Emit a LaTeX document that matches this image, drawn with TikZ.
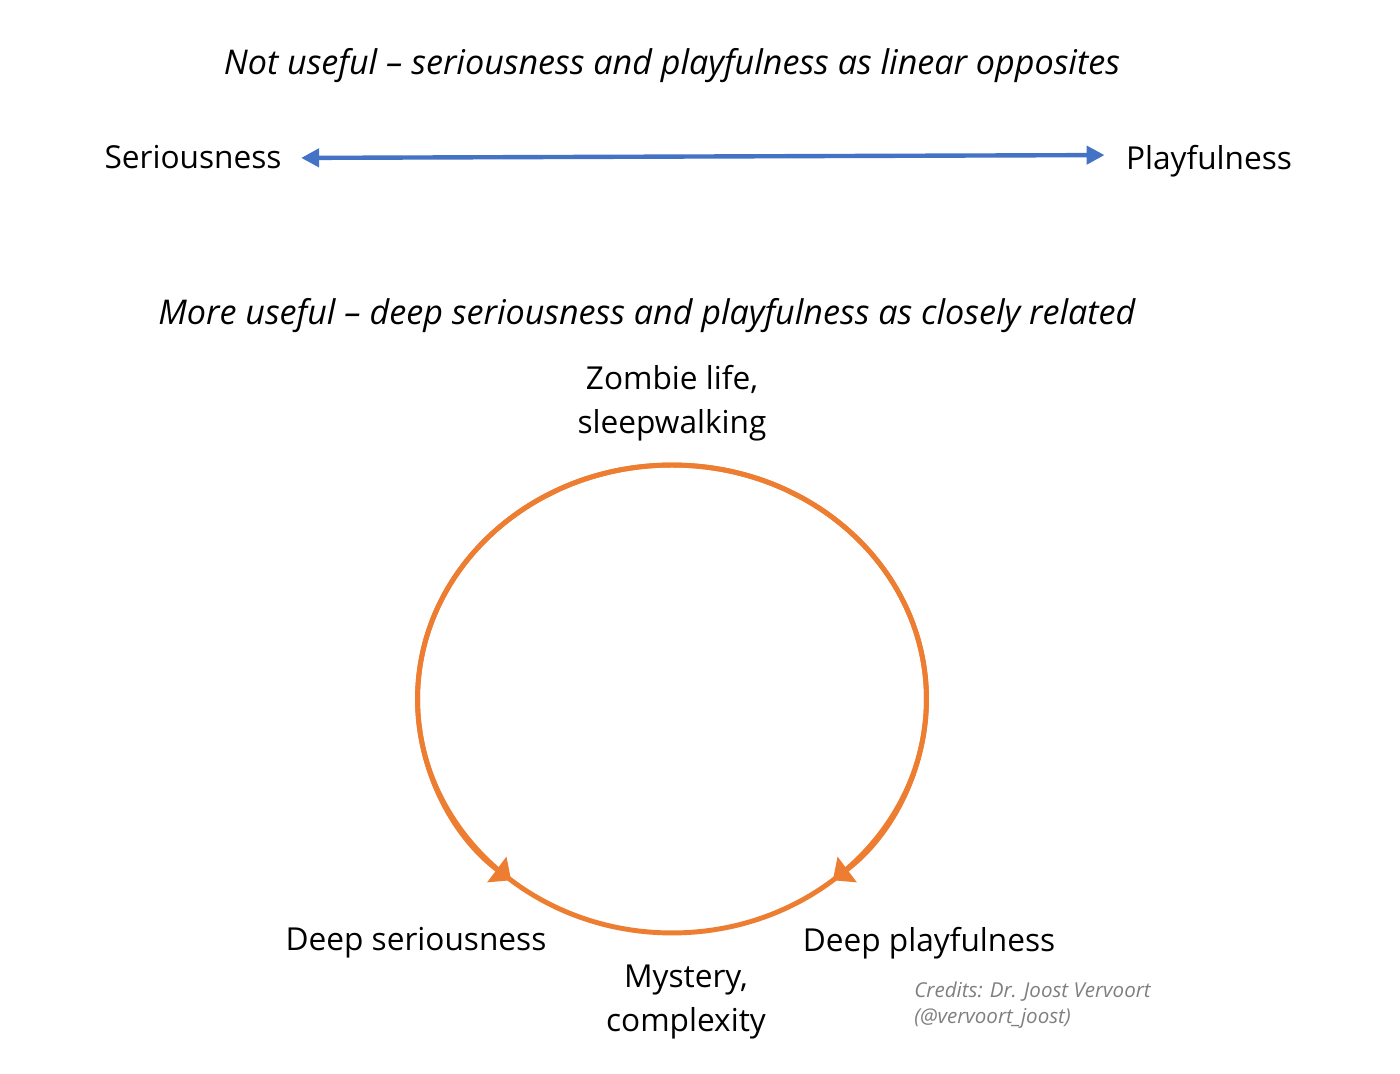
\documentclass[tikz,border=0pt]{standalone}
\usepackage{fontspec}
\setmainfont{Open Sans}
\usetikzlibrary{arrows.meta}
\definecolor{linblue}{HTML}{4472C4}
\definecolor{cycorange}{HTML}{ED7D31}
\definecolor{credgray}{HTML}{7F7F7F}
\tikzset{
	lbl/.style={font=\fontsize{18pt}{25pt}\selectfont, align=center, inner sep=0pt},
	ttl/.style={lbl, font=\fontsize{19.4pt}{25pt}\selectfont\itshape},
	cyc/.style={draw=cycorange, line width=2.8pt},
	cyctip/.style={-{Triangle[length=0.36cm, width=0.62cm]}}
}
\begin{document}
\begin{tikzpicture}[x=0.02cm, y=0.02cm]
		\useasboundingbox (0,0) rectangle (1400,1074);
		%top
			\node [ttl] (ttlA) at (672,1008) {Not useful -- seriousness and playfulness as linear opposites};
			\node [lbl] (ser) at (193,917) {Seriousness};
			\node [lbl] (play) at (1209,913) {Playfulness};
			%arrow
			\draw [linblue, line width=2.5pt, {Triangle[length=0.36cm, width=0.36cm]}-{Triangle[length=0.36cm, width=0.36cm]}, shorten <=11pt, shorten >=12pt] ([yshift=-0.02cm]ser.east) to ([yshift=0.12cm]play.west);
		%bottom
			\node [ttl] (ttlB) at (647,758) {More useful -- deep seriousness and playfulness as closely related};
			\node [lbl] (zomb) at (672,671) {Zombie life,\\sleepwalking};
			\node [lbl] (dser) at (416,131) {Deep seriousness};
			\node [lbl] (dplay) at (929,131) {Deep playfulness};
			\node [lbl] (myst) at (686,72) {Mystery,\\complexity};
			\node [anchor=west, align=left, inner sep=0pt, text=credgray, font=\fontsize{11.7pt}{14.5pt}\selectfont\itshape] (cred) at (914,69) {Credits: Dr. Joost Vervoort\\(@vervoort\_joost)};
			%cycle
			\coordinate (mid) at (672,375);
			\draw [cyc] (mid) ellipse [x radius=5.09cm, y radius=4.68cm];
			\draw [cyc, cyctip] (mid) ++(90:5.09cm and 4.68cm) arc [start angle=90, end angle=230.8, x radius=5.09cm, y radius=4.68cm];
			\draw [cyc, cyctip] (mid) ++(90:5.09cm and 4.68cm) arc [start angle=90, end angle=-50.8, x radius=5.09cm, y radius=4.68cm];
\end{tikzpicture}
\end{document}
